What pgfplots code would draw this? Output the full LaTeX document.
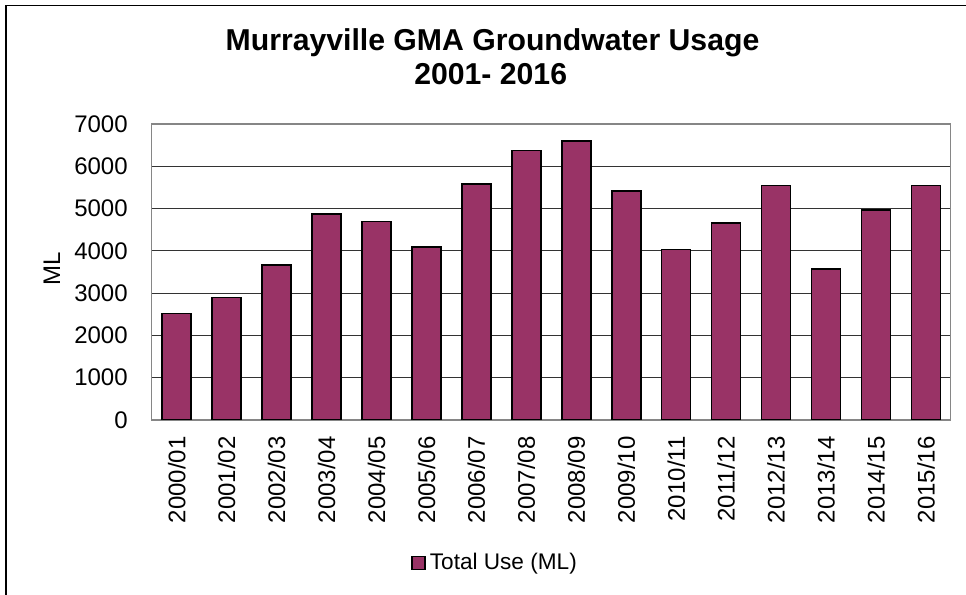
\documentclass[border=0pt]{standalone}
\usepackage{fontspec}
\setmainfont{Liberation Sans}
\usepackage{pgfplots}
\pgfplotsset{compat=1.18}
\definecolor{barfill}{HTML}{993366}
\definecolor{framegray}{HTML}{868686}

\begin{document}
\begin{tikzpicture}
% fixed page: 966x595 px at 0.5pt per px, axis box lower left at (0,0)
\path[use as bounding box] (-75.85pt,-87.5pt) rectangle (407.15pt,210pt);
\draw[line width=0.7pt] (-72.85pt,-90pt) -- (-72.85pt,207.35pt) -- (410pt,207.35pt);

\begin{axis}[
  at={(0,0)}, anchor=south west,
  scale only axis,
  width=399.6pt, height=148pt,
  ybar, bar width=14.5pt,
  xmin=-0.5, xmax=15.5,
  ymin=0, ymax=7000,
  xtick=data,
  xticklabels={2000/01,2001/02,2002/03,2003/04,2004/05,2005/06,2006/07,2007/08,2008/09,2009/10,2010/11,2011/12,2012/13,2013/14,2014/15,2015/16},
  ytick={0,1000,...,6000},
  extra y ticks={7000},
  extra y tick style={grid=none},
  major tick length=0pt,
  ymajorgrids=true,
  grid style={draw=black!80, line width=0.5pt},
  axis line style={draw=framegray, line width=0.6pt},
  tick style={draw=none},
  /pgf/number format/assume math mode=true,
  scaled y ticks=false,
  yticklabel={\pgfmathprintnumber[fixed,1000 sep={}]{\tick}},
  ticklabel style={font=\fontsize{12}{14}\selectfont},
  yticklabel style={anchor=east, inner sep=0pt, xshift=-11.8pt},
  xticklabel style={rotate=90, anchor=east, inner sep=0pt, xshift=-8pt},
  ylabel={ML},
  ylabel style={at={(axis description cs:-0.125,0.51)}, anchor=center, font=\fontsize{12}{14}\selectfont},
  legend style={at={(axis description cs:0.431,-0.483)}, anchor=center, draw=none,
    font=\fontsize{11.3}{13}\selectfont, inner sep=1pt},
  legend image code/.code={\draw[#1, line width=0.8pt] (0pt,-3.2pt) rectangle (6.4pt,3.2pt);},
]
\addplot[fill=barfill, draw=black, line width=0.8pt] coordinates {
  (0,2522) (1,2900) (2,3672) (3,4870) (4,4692) (5,4087) (6,5583) (7,6372)
  (8,6600) (9,5409) (10,4031) (11,4661) (12,5543) (13,3575) (14,4961) (15,5543)
};
\addlegendentry{Total Use (ML)}
\end{axis}

\node[anchor=base, font=\bfseries\fontsize{15.1}{17}\selectfont] at (170.4pt,184.5pt) {Murrayville GMA Groundwater Usage};
\node[anchor=base, font=\bfseries\fontsize{15.1}{17}\selectfont] at (169.5pt,167.5pt) {2001- 2016};
\end{tikzpicture}
\end{document}
